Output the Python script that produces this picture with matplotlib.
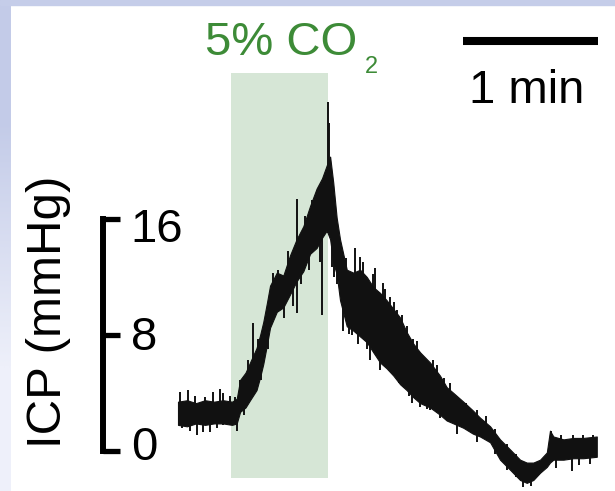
import matplotlib
matplotlib.use('Agg')
import matplotlib.pyplot as plt
from matplotlib.patches import Rectangle
from matplotlib.colors import LinearSegmentedColormap

plt.rcParams['font.family'] = ['Liberation Sans', 'DejaVu Sans']

# ICP trace envelope (time in s, ICP in mmHg)
t_s = [0.0, 4, 8, 12, 16, 20, 24, 26.1, 27.6, 30, 32.0, 34.9, 36.5, 37.9, 39.5,
       40.9, 43.9, 46.8, 49.8, 52.7, 55.7, 58.7, 61.6, 64.0, 66.1, 67.6, 69.0,
       70.5, 72.0, 75.0, 77.9, 80.9, 83.9, 86.8, 89.8, 92.7, 95.7, 98.7, 101.6,
       104.6, 107.6, 112.0, 116.4, 119.4, 122.4, 126.8, 131.0, 134.2, 138.7, 143.1,
       147.6, 152.0, 155.0, 157.9, 160.9, 163.9, 165.3, 166.8, 171.3, 175.7,
       180.1, 186.1]
icp_lo = [1.8, 1.7, 1.9, 1.8, 1.9, 1.9, 1.8, 1.9, 2.7, 3.0, 3.5, 4.2, 5.1, 6.0, 7.3,
          8.5, 9.6, 9.9, 10.8, 11.7, 12.4, 13.6, 14.0, 14.7, 15.2, 14.6, 13.0,
          12.2, 10.4, 8.6, 8.3, 7.9, 7.5, 6.8, 6.1, 5.7, 5.2, 4.6, 4.2,
          3.7, 3.3, 3.0, 2.5, 2.1, 1.9, 1.6, 1.2, 1.0, 0.6, -0.6,
          -1.3, -2.0, -2.2, -2.0, -1.5, -1.1, -0.8, -0.6, -0.6, -0.5,
          -0.5, -0.4]
icp_hi = [3.4, 3.5, 3.3, 3.5, 3.4, 3.5, 3.4, 3.6, 4.9, 5.4, 6.1, 7.1, 8.0, 8.9, 10.2,
          11.4, 12.3, 12.1, 13.5, 14.6, 15.5, 16.9, 18.1, 18.8, 19.7, 20.3, 18.5,
          16.1, 14.6, 12.5, 12.3, 12.5, 12.0, 11.3, 10.9, 10.4, 9.8, 9.2, 8.2,
          7.4, 6.8, 6.1, 5.2, 4.4, 4.0, 3.4, 2.8, 2.3, 1.7, 0.8,
          0.1, -0.6, -0.8, -0.8, -0.6, -0.1, 1.4, 1.0, 0.8, 0.9,
          0.9, 1.0]

# single large deflections (time, bottom, top)
spike_t = [0.9, 1.6, 4.6, 5.3, 7.6, 8.3, 11.3, 12.0, 14.2, 15.7, 17.2, 18.7, 20.1,
           23.1, 25.3, 26.1,
           27.6, 29.5, 31.0, 33.5, 35.7, 37.0, 40.0, 42.0, 44.6, 47.0, 49.0, 51.0,
           52.7, 54.5, 56.5, 58.0, 59.5, 61.6, 63.0, 63.9, 64.9, 66.5, 67.3, 68.3,
           69.5, 70.8,
           73.5, 74.5, 76.0, 77.2, 78.7, 80.1, 80.9, 82.4, 84.0, 85.3, 86.5, 87.6,
           89.8, 91.0, 92.0, 94.2, 95.0, 96.0, 97.2, 98.0, 99.5, 101.6, 102.8,
           103.9, 104.6, 106.0, 107.6, 109.0, 110.5, 112.0, 113.5, 115.0, 116.4,
           118.0, 120.9,
           124.0, 128.0, 133.0, 137.0, 141.0, 146.0, 150.0, 153.5, 157.0,
           165.9, 168.0, 170.0, 174.9, 175.5, 178.0, 180.1, 183.0, 184.5]
spike_lo = [2.5, 1.6, 2.5, 1.4, 2.5, 1.1, 1.3, 2.5, 1.3, 2.5, 1.6, 2.5, 1.8,
            1.8, 2.5, 1.4,
            3.5, 2.5, 3.5, 5.0, 5.5, 4.9, 7.0, 9.0, 10.5, 9.2, 11.5, 10.0,
            9.5, 11.5, 14.0, 12.5, 15.0, 14.5, 13.0, 9.4, 15.0, 15.0, 15.0, 12.7,
            12.0, 11.5,
            8.3, 10.0, 8.1, 8.0, 10.0, 7.4, 9.0, 9.0, 7.0, 6.3, 8.5, 9.0,
            5.6, 8.0, 8.0, 7.5, 5.4, 7.0, 7.0, 4.7, 6.0, 6.0, 3.8,
            3.3, 5.0, 4.8, 3.0, 4.5, 2.9, 2.8, 4.0, 4.0, 2.3,
            3.0, 3.0,
            1.2, 2.0, 0.6, 1.0, -0.2, -1.3, -1.8, -2.5, -2.4,
            -0.3, -1.2, -0.3, -1.4, -0.3, -1.0, -0.3, -0.9, -0.3]
spike_hi = [4.1, 2.6, 4.2, 2.6, 3.8, 2.6, 2.6, 3.7, 2.6, 4.1, 2.6, 4.3, 4.0,
            3.8, 3.7, 2.6,
            4.9, 4.0, 6.3, 8.8, 7.7, 6.0, 9.5, 12.3, 12.5, 11.0, 13.8, 12.0,
            17.4, 13.5, 16.2, 14.5, 17.3, 18.0, 15.0, 15.5, 18.7, 24.1, 22.6, 16.0,
            17.5, 14.5,
            11.0, 13.3, 10.0, 11.0, 14.0, 11.0, 13.4, 13.0, 10.0, 10.0, 12.2, 12.6,
            9.0, 11.6, 11.2, 10.6, 8.0, 10.3, 9.7, 7.5, 9.4, 8.6, 7.0,
            6.0, 7.7, 7.6, 5.5, 6.5, 5.0, 5.0, 6.3, 5.9, 4.0,
            5.0, 4.7,
            3.6, 3.3, 2.8, 2.4, 1.5, 0.5, -0.2, -1.5, -1.2,
            1.4, 0.3, 1.1, -0.2, 1.1, 0.3, 1.1, 0.3, 1.1]

co2_on, co2_off = 23.6, 66.7     # s
ybar_ticks = [0, 8, 16]          # mmHg
tick_label_base = [-0.62, 6.97, 14.41]
time_bar = 60                    # s

fig = plt.figure(figsize=(6.15, 4.91), dpi=100)

# bluish frame on the left / top
bg = fig.add_axes([0, 0, 11 / 615, 1])
cm = LinearSegmentedColormap.from_list('edge', ['#c3cbe8', '#eef0fa'])
bg.imshow([[0], [1]], cmap=cm, aspect='auto', interpolation='bilinear', extent=[0, 1, 0, 1])
bg.axis('off')
fig.patches.append(Rectangle((0, 1 - 5 / 491), 1, 5 / 491, transform=fig.transFigure,
                             color='#c5cde9', zorder=0))

ax = fig.add_axes([0, 0, 1, 1])
ax.patch.set_alpha(0)
ax.set_xlim(-79.1, 194.2)
ax.set_ylim(-2.76, 31.1)
ax.axis('off')

# CO2 window
ax.add_patch(Rectangle((co2_on, -1.86), co2_off - co2_on, 27.9, color='#d6e6d6', lw=0, zorder=1))
ax.text(12.0, 27.3, '5% CO', color='#3d8b37', fontsize=34, ha='left', va='baseline')
ax.text(83.1, 26.1, '2', color='#3d8b37', fontsize=17, ha='left', va='baseline')

# trace
ax.fill_between(t_s, icp_lo, icp_hi, color='#111111', lw=0.8, zorder=3)
ax.vlines(spike_t, spike_lo, spike_hi, color='#111111', lw=1.4, zorder=3)

# vertical scale bar
ax.plot([-33.3, -33.3], [0, 16], color='black', lw=4.3, solid_capstyle='projecting')
for v, yb in zip(ybar_ticks, tick_label_base):
    ax.plot([-33.3, -25.8], [v, v], color='black', lw=3.8, solid_capstyle='butt')
    ax.text(-21.0, yb, str(v), fontsize=34, ha='left', va='baseline')
ax.text(-57.5, 9.6, 'ICP (mmHg)', fontsize=35.5, rotation=90, ha='center', va='center')

# time scale bar
ax.plot([126.7, 126.7 + time_bar], [28.24, 28.24], color='black', lw=5.8, solid_capstyle='butt')
ax.text(154.9, 24.0, '1 min', fontsize=34, ha='center', va='baseline')

fig.savefig('out.png', dpi=100)
